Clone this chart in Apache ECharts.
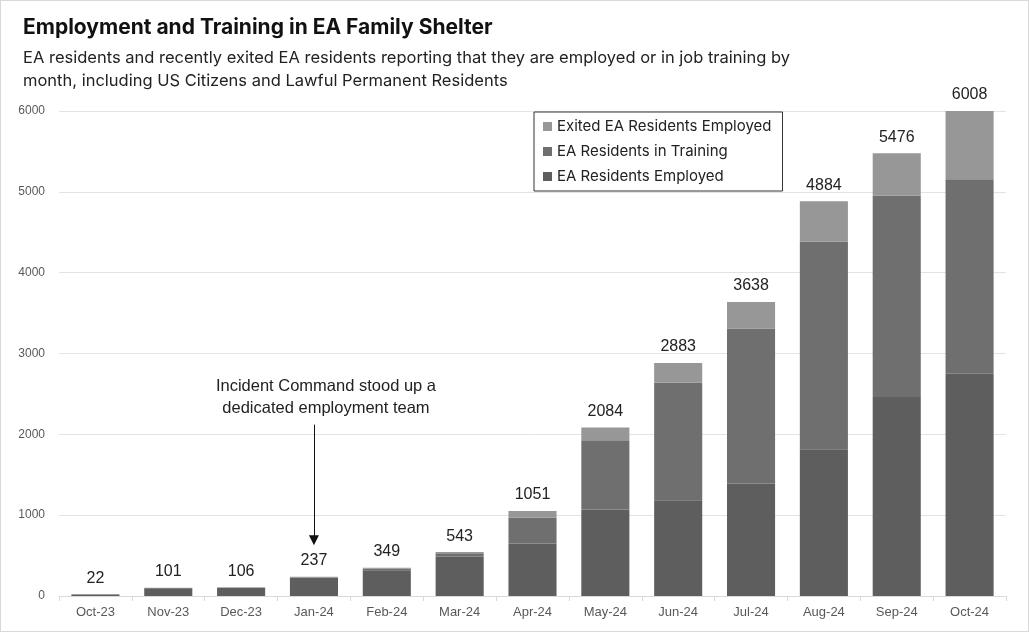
<!DOCTYPE html>
<html>
<head>
<meta charset="utf-8">
<title>Employment and Training in EA Family Shelter</title>
<style>
  html, body { margin: 0; padding: 0; background: #fff; }
  #box { width: 1027px; height: 630px; border: 1px solid #d9d9d9; }
</style>
</head>
<body>
<div id="box"></div>
<script src="https://cdn.jsdelivr.net/npm/echarts@6/dist/echarts.min.js"></script>
<script>
// months on the x axis
var months = ['Oct-23', 'Nov-23', 'Dec-23', 'Jan-24', 'Feb-24', 'Mar-24', 'Apr-24',
              'May-24', 'Jun-24', 'Jul-24', 'Aug-24', 'Sep-24', 'Oct-24'];
// stacked segments
var employed = [20, 96, 100, 225, 320, 490, 651, 1070, 1185, 1391, 1815, 2461, 2749];
var training = [2, 3, 4, 8, 20, 38, 316, 856, 1453, 1918, 2568, 2490, 2408];
var exited   = [0, 2, 2, 4, 9, 15, 84, 158, 245, 329, 501, 525, 851];
// totals printed above each bar
var totals   = [22, 101, 106, 237, 349, 543, 1051, 2084, 2883, 3638, 4884, 5476, 6008];
var yTicks   = [0, 1000, 2000, 3000, 4000, 5000, 6000];
// annotation
var noteMonth = 'Jan-24';
var noteText = 'Incident Command stood up a\ndedicated employment team';

var myChart = echarts.init(document.getElementById('box'));
var labelFont = 'Liberation Sans, Arial, sans-serif';

myChart.setOption({
  animation: false,
  title: {
    text: 'Employment and Training in EA Family Shelter',
    subtext: 'EA residents and recently exited EA residents reporting that they are employed or in job training by\nmonth, including US Citizens and Lawful Permanent Residents',
    left: 17,
    top: 11,
    itemGap: 9,
    textStyle: { fontFamily: 'Inter, sans-serif', fontSize: 21, fontWeight: 'bold', color: '#111' },
    subtextStyle: { fontFamily: 'Inter, sans-serif', fontSize: 16.5, color: '#222', lineHeight: 23 }
  },
  legend: {
    orient: 'vertical',
    left: 533,
    top: 111,
    itemWidth: 9,
    itemHeight: 9,
    itemGap: 10,
    padding: [7, 11, 7, 9],
    borderColor: '#333',
    borderWidth: 1,
    textStyle: { fontFamily: 'Inter, sans-serif', fontSize: 15, color: '#222' },
    data: [
      { name: 'Exited EA Residents Employed', icon: 'rect' },
      { name: 'EA Residents in Training', icon: 'rect' },
      { name: 'EA Residents Employed', icon: 'rect' }
    ]
  },
  grid: { left: 58, right: 22, top: 110, bottom: 35 },
  xAxis: {
    type: 'category',
    data: months,
    axisLine: { lineStyle: { color: '#d9d9d9' } },
    axisTick: { show: true, lineStyle: { color: '#d9d9d9' } },
    axisLabel: { fontFamily: labelFont, fontSize: 13, color: '#595959', margin: 10 }
  },
  yAxis: {
    type: 'value',
    min: yTicks[0],
    max: yTicks[yTicks.length - 1],
    interval: 1000,
    axisLine: { show: false },
    axisTick: { show: false },
    axisLabel: {
      fontFamily: labelFont, fontSize: 12, color: '#595959', margin: 14,
      formatter: function (v) { return String(v); }
    },
    splitLine: { lineStyle: { color: '#e3e3e3' } }
  },
  series: [
    {
      name: 'EA Residents Employed',
      type: 'bar',
      stack: 'all',
      barWidth: '66%',
      itemStyle: { color: '#5e5e5e' },
      data: employed,
      markLine: {
        silent: true,
        symbol: ['none', 'triangle'],
        symbolSize: [10, 10],
        lineStyle: { color: '#111', width: 1, type: 'solid' },
        label: { show: false },
        data: [[{ coord: [noteMonth, 2120] }, { coord: [noteMonth, 690] }]]
      },
      markPoint: {
        silent: true,
        symbol: 'circle',
        symbolSize: 0,
        data: [{ coord: [noteMonth, 2460], value: noteText }],
        label: {
          show: true,
          formatter: noteText,
          offset: [12, 0],
          fontFamily: labelFont,
          fontSize: 16.5,
          color: '#222',
          lineHeight: 22,
          align: 'center'
        }
      }
    },
    {
      name: 'EA Residents in Training',
      type: 'bar',
      stack: 'all',
      itemStyle: { color: '#6f6f6f' },
      data: training
    },
    {
      name: 'Exited EA Residents Employed',
      type: 'bar',
      stack: 'all',
      itemStyle: { color: '#979797' },
      data: exited,
      label: {
        show: true,
        position: 'top',
        distance: 8,
        fontFamily: labelFont,
        fontSize: 16,
        color: '#222',
        formatter: function (p) { return totals[p.dataIndex]; }
      }
    }
  ]
});
</script>
</body>
</html>
